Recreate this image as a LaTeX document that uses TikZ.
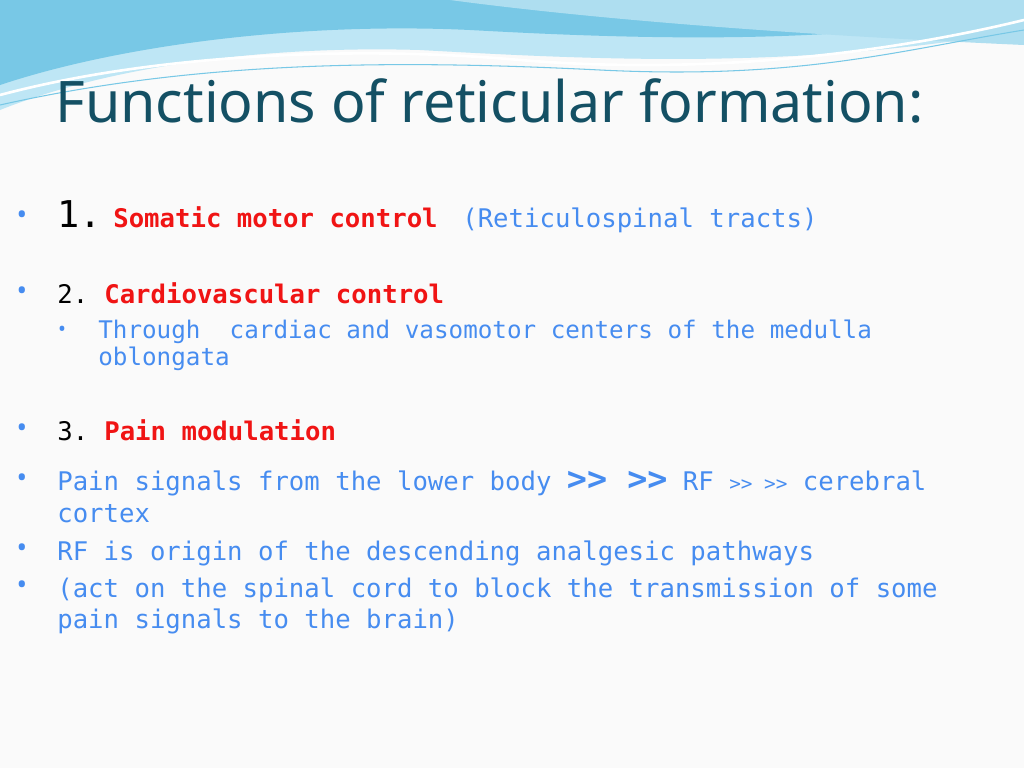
\documentclass[tikz,border=0pt]{standalone}
\usepackage{fontspec}
\setmainfont{Noto Sans}
\newfontfamily\bodyfont{DejaVu Sans Mono}
\usetikzlibrary{positioning}
\definecolor{titleteal}{RGB}{20,80,100}
\definecolor{ptblue}{RGB}{70,140,240}
\definecolor{ptred}{RGB}{240,20,20}
\definecolor{wave1}{RGB}{120,200,230}
\definecolor{wave2}{RGB}{190,230,245}
\tikzset{
  txt/.style={anchor=base west, inner sep=0pt, font=\bodyfont\fontsize{14.6pt}{17pt}\selectfont},
  bul/.style={anchor=base, inner sep=0pt, font=\fontsize{16pt}{18pt}\selectfont, text=ptblue}
}
\begin{document}
\begin{tikzpicture}[x=0.02cm, y=-0.02cm]
  \useasboundingbox (0,0) rectangle (1024,768);
  \fill[gray!4] (0,0) rectangle (1024,768);
  % waves at the top
  \fill[wave2] (0,0) -- (1024,0) -- (1024,30) .. controls (800,70) and (600,60) .. (420,50) .. controls (250,45) and (100,70) .. (0,110) -- cycle;
  \fill[wave1] (0,0) -- (1024,0) -- (1024,10) .. controls (850,45) and (650,40) .. (470,30) .. controls (300,22) and (120,45) .. (0,85) -- cycle;
  \fill[wave1!60!white] (450,0) .. controls (600,20) and (800,35) .. (1024,45) -- (1024,0) -- cycle;
  \draw[white, line width=1.5pt] (0,95) .. controls (150,55) and (350,45) .. (520,60) .. controls (700,75) and (880,55) .. (1024,20);
  \draw[wave1, line width=0.6pt] (0,105) .. controls (200,60) and (400,60) .. (600,70) .. controls (800,80) and (900,50) .. (1024,30);
  % title
  \node[anchor=base west, inner sep=0pt, text=titleteal, font=\fontsize{32.6pt}{38pt}\selectfont] (title) at (55,122) {Functions of reticular formation:};
  % item 1
  \node[bul] (b1) at (22,224) {•};
  \node[txt, font=\bodyfont\fontsize{21pt}{24pt}\selectfont] (n1) at (57,227) {1.};
  \node[txt, text=ptred] (s1) at (113,227) {\bfseries Somatic motor control};
  \node[txt, text=ptblue] (r1) at (462,227) {(Reticulospinal tracts)};
  % item 2
  \node[bul] (b2) at (22,300) {•};
  \node[txt] (n2) at (57,303) {2.};
  \node[txt, text=ptred] (s2) at (104,303) {\bfseries Cardiovascular control};
  \node[bul, font=\fontsize{12pt}{14pt}\selectfont] (b2a) at (62,336) {•};
  \node[txt, text=ptblue, font=\bodyfont\fontsize{13.8pt}{16pt}\selectfont] (t2a) at (98,338) {Through\ \ cardiac and vasomotor centers of the medulla};
  \node[txt, text=ptblue, font=\bodyfont\fontsize{13.8pt}{16pt}\selectfont] (t2b) at (98,365) {oblongata};
  % item 3
  \node[bul] (b3) at (22,437) {•};
  \node[txt] (n3) at (57,440) {3.};
  \node[txt, text=ptred] (s3) at (104,440) {\bfseries Pain modulation};
  % pain lines
  \node[bul] (b4) at (22,487) {•};
  \node[txt, text=ptblue] (p1) at (57,490) {Pain signals from the lower body {\bfseries\fontsize{19pt}{20pt}\selectfont >> >>} RF {\fontsize{11pt}{12pt}\selectfont >> >>} cerebral};
  \node[txt, text=ptblue] (p2) at (57,522) {cortex};
  \node[bul] (b5) at (22,557) {•};
  \node[txt, text=ptblue] (p3) at (57,560) {RF is origin of the descending analgesic pathways};
  \node[bul] (b6) at (22,594) {•};
  \node[txt, text=ptblue] (p4) at (57,597) {(act on the spinal cord to block the transmission of some};
  \node[txt, text=ptblue] (p5) at (57,628) {pain signals to the brain)};
\end{tikzpicture}
\end{document}
